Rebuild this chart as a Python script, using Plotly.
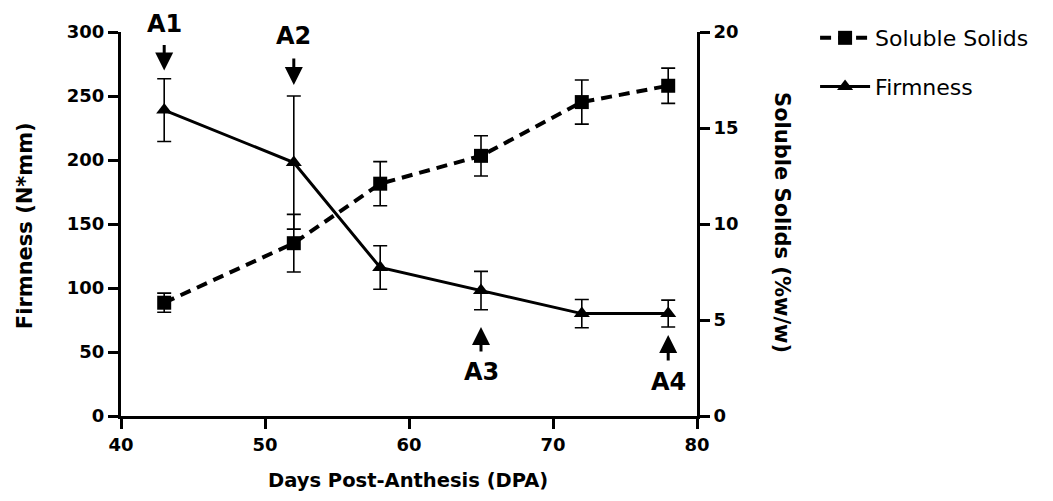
import plotly.graph_objects as go

# ---- data ----
dpa = [43, 52, 58, 65, 72, 78]
firmness = [239, 198, 116, 98, 80, 80]
firmness_err = [24.5, 52, 17, 15, 11, 10.5]
soluble = [5.9, 9.0, 12.1, 13.55, 16.35, 17.2]
soluble_err = [0.5, 1.5, 1.15, 1.05, 1.15, 0.92]

x_ticks = [40, 50, 60, 70, 80]
y_ticks = [0, 50, 100, 150, 200, 250, 300]
y2_ticks = [0, 5, 10, 15, 20]

# stage annotations: label, x, arrow tip (firmness units), tail, text y
stages = ["A1", "A2", "A3", "A4"]
stage_x = [43, 52, 65, 78]
stage_tip = [270, 258.5, 69.5, 63.3]
stage_tail = [291, 280.5, 49.2, 42.2]
stage_text_y = [306.5, 296.5, 34.4, 26.6]

Y_MAX = 300
FONT = "DejaVu Sans, Verdana, sans-serif"

fig = go.Figure()

fig.add_trace(go.Scatter(
    x=dpa, y=firmness, name="Firmness", mode="lines+markers",
    line=dict(color="black", width=3),
    marker=dict(symbol="triangle-up", size=14, color="black"),
    error_y=dict(type="data", array=firmness_err, thickness=1.6, width=7, color="black"),
    legendrank=2, legendgroup="f", cliponaxis=False,
))
fig.add_trace(go.Scatter(
    x=dpa, y=soluble, name="Soluble Solids", mode="lines+markers", yaxis="y2",
    line=dict(color="black", width=4, dash="11px,7px"),
    marker=dict(symbol="square", size=14, color="black"),
    error_y=dict(type="data", array=soluble_err, thickness=1.6, width=7, color="black"),
    legendrank=1, legendgroup="s", cliponaxis=False,
))

annotations = []
for lab, sx, tip, tail, ty in zip(stages, stage_x, stage_tip, stage_tail, stage_text_y):
    annotations.append(dict(
        x=sx, y=tip, ax=sx, ay=tail, xref="x", yref="y", axref="x", ayref="y",
        text="", showarrow=True, arrowhead=2, arrowsize=1.2, arrowwidth=3,
        arrowcolor="black", standoff=0, startstandoff=0,
    ))
    annotations.append(dict(
        x=sx, y=ty / Y_MAX, xref="x", yref="paper", text=lab, showarrow=False,
        font=dict(family=FONT, size=24, color="black", weight="bold"),
        xanchor="center", yanchor="middle", borderpad=0,
    ))

def tfont(size):
    return dict(family=FONT, size=size, color="black", weight="bold")

annotations += [
    dict(text="Firmness (N*mm)", x=-0.1667, y=0.497, xref="paper", yref="paper",
         textangle=-90, showarrow=False, font=tfont(21),
         xanchor="center", yanchor="middle"),
    dict(text="Soluble Solids (%w/w)", x=1.1476, y=0.505, xref="paper", yref="paper",
         textangle=90, showarrow=False, font=tfont(21),
         xanchor="center", yanchor="middle"),
    dict(text="Days Post-Anthesis (DPA)", x=0.498, y=-0.167, xref="paper", yref="paper",
         showarrow=False, font=tfont(19.5), borderpad=0,
         xanchor="center", yanchor="middle"),
]

axis_common = dict(
    showline=True, linecolor="black", linewidth=3, ticks="outside", ticklen=10,
    tickwidth=3, tickcolor="black", showgrid=False, zeroline=False,
    tickfont=tfont(18),
)

fig.update_layout(
    width=1037, height=485,
    margin=dict(l=113, r=348, t=24, b=77, autoexpand=False),
    paper_bgcolor="white", plot_bgcolor="white",
    font=dict(family=FONT, color="black"),
    xaxis=dict(range=[40, 80], tickvals=x_ticks, **axis_common),
    yaxis=dict(range=[0, Y_MAX], tickvals=y_ticks, **axis_common),
    yaxis2=dict(range=[0, 20], tickvals=y2_ticks, overlaying="y", side="right", **axis_common),
    legend=dict(x=1.205, y=1.039, xanchor="left", yanchor="top",
                font=dict(family=FONT, size=22, color="black"),
                tracegroupgap=17, itemwidth=50, bgcolor="rgba(0,0,0,0)"),
    showlegend=True,
    annotations=annotations,
)

fig.write_html("out.html")
